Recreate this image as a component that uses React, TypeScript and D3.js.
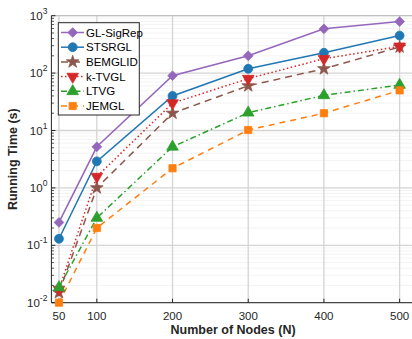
import React, { useEffect, useRef } from "react";
import * as d3 from "d3";

const nodes = [50, 100, 200, 300, 400, 500];
const glSigRep = [0.25, 5.2, 90, 200, 590, 790];
const stsrgl = [0.13, 2.9, 40, 119, 226, 450];
const bemglid = [0.015, 1.0, 20, 60, 119, 285];
const kTvgl = [0.017, 1.57, 30, 80, 178, 292];
const ltvg = [0.0185, 0.3, 5.2, 20.4, 41, 62];
const jemgl = [0.01, 0.2, 2.2, 10.2, 20, 50];
const yTicks = [-2, -1, 0, 1, 2, 3];

const series = [
  { name: "GL-SigRep", values: glSigRep, color: "#9467bd", dash: "", marker: d3.symbolDiamond2, size: 60 },
  { name: "STSRGL", values: stsrgl, color: "#1f77b4", dash: "", marker: d3.symbolCircle, size: 62 },
  { name: "BEMGLID", values: bemglid, color: "#8c564b", dash: "7,5", marker: d3.symbolStar, size: 50 },
  { name: "k-TVGL", values: kTvgl, color: "#d62728", dash: "1.5,2.5", marker: d3.symbolTriangle, size: 58, rot: 180 },
  { name: "LTVG", values: ltvg, color: "#2ca02c", dash: "6,3,1.5,3", marker: d3.symbolTriangle, size: 58 },
  { name: "JEMGL", values: jemgl, color: "#ff7f0e", dash: "6,5", marker: d3.symbolSquare, size: 52 },
];

const W = 412;
const H = 339;

export default function App() {
  const ref = useRef<SVGSVGElement>(null);

  useEffect(() => {
    const svg = d3.select(ref.current);
    svg.selectAll("*").remove();

    const left = 51.4, top = 15.7, bottom = 302.7;
    const x = d3.scaleLinear().domain([40, 520]).range([left, left + 480 * 0.757]);
    const y = d3.scaleLog().domain([0.01, 1000]).range([bottom, top]);
    const right = x(520);
    const font = "Liberation Sans, Arial, sans-serif";

    svg.append("rect").attr("width", W).attr("height", H).attr("fill", "#fff");

    // minor y grid
    const minor: number[] = [];
    for (let e = -2; e < 3; e++) for (let m = 2; m <= 9; m++) minor.push(m * Math.pow(10, e));
    svg.append("g").selectAll("line").data(minor).join("line")
      .attr("x1", left).attr("x2", right)
      .attr("y1", (d) => y(d)).attr("y2", (d) => y(d))
      .attr("stroke", "#e2e2e2").attr("stroke-width", 0.8).attr("stroke-dasharray", "1,1");

    // major grid
    svg.append("g").selectAll("line").data(yTicks).join("line")
      .attr("x1", left).attr("x2", right)
      .attr("y1", (d) => y(Math.pow(10, d))).attr("y2", (d) => y(Math.pow(10, d)))
      .attr("stroke", "#d4d4d4").attr("stroke-width", 1.3);
    svg.append("g").selectAll("line").data(nodes).join("line")
      .attr("x1", (d) => x(d)).attr("x2", (d) => x(d))
      .attr("y1", top).attr("y2", bottom)
      .attr("stroke", "#d4d4d4").attr("stroke-width", 1.3);

    // frame
    svg.append("line").attr("x1", left).attr("x2", right).attr("y1", top).attr("y2", top)
      .attr("stroke", "#bcbcbc").attr("stroke-width", 1);
    svg.append("line").attr("x1", left).attr("x2", right).attr("y1", bottom).attr("y2", bottom)
      .attr("stroke", "#262626").attr("stroke-width", 1);
    svg.append("line").attr("x1", left).attr("x2", left).attr("y1", top).attr("y2", bottom)
      .attr("stroke", "#262626").attr("stroke-width", 1);

    // ticks
    svg.append("g").selectAll("line").data(nodes).join("line")
      .attr("x1", (d) => x(d)).attr("x2", (d) => x(d))
      .attr("y1", bottom).attr("y2", bottom - 4)
      .attr("stroke", "#262626");
    svg.append("g").selectAll("line").data(yTicks).join("line")
      .attr("x1", left).attr("x2", left + 4)
      .attr("y1", (d) => y(Math.pow(10, d))).attr("y2", (d) => y(Math.pow(10, d)))
      .attr("stroke", "#262626");
    svg.append("g").selectAll("line").data(minor).join("line")
      .attr("x1", left).attr("x2", left + 2.5)
      .attr("y1", (d) => y(d)).attr("y2", (d) => y(d))
      .attr("stroke", "#262626").attr("stroke-width", 0.8);

    // tick labels
    svg.append("g").selectAll("text").data(nodes).join("text")
      .attr("x", (d) => x(d)).attr("y", bottom + 17)
      .attr("text-anchor", "middle").attr("font-family", font).attr("font-size", 11.5)
      .attr("fill", "#262626").text((d) => d);
    const yl = svg.append("g").selectAll("text").data(yTicks).join("text")
      .attr("x", left - 4).attr("y", (d) => y(Math.pow(10, d)) + 4)
      .attr("text-anchor", "end").attr("font-family", font).attr("font-size", 11.5)
      .attr("fill", "#262626");
    yl.append("tspan").text("10");
    yl.append("tspan").attr("dy", -6).attr("font-size", 8.5).text((d) => d);

    // axis labels
    svg.append("text").attr("x", (left + right) / 2).attr("y", 334)
      .attr("text-anchor", "middle").attr("font-family", font).attr("font-size", 12.5)
      .attr("font-weight", "bold").attr("fill", "#262626").text("Number of Nodes (N)");
    svg.append("text").attr("transform", `translate(17,${(top + bottom) / 2}) rotate(-90)`)
      .attr("text-anchor", "middle").attr("font-family", font).attr("font-size", 12.5)
      .attr("font-weight", "bold").attr("fill", "#262626").text("Running Time (s)");

    const line = d3.line<number>().x((_, i) => x(nodes[i])).y((d) => y(d));
    const drawMarker = (g: any, s: any, cx: number, cy: number) => {
      g.append("path")
        .attr("d", d3.symbol().type(s.marker).size(s.size)())
        .attr("transform", `translate(${cx},${cy}) rotate(${s.rot || 0})`)
        .attr("fill", s.color).attr("stroke", s.color).attr("stroke-width", 0.8);
    };

    const plot = svg.append("g");
    series.forEach((s) => {
      plot.append("path").attr("d", line(s.values))
        .attr("fill", "none").attr("stroke", s.color).attr("stroke-width", 1.5)
        .attr("stroke-dasharray", s.dash || null);
    });
    series.forEach((s) => {
      s.values.forEach((v, i) => drawMarker(plot, s, x(nodes[i]), y(v)));
    });

    // legend
    const lg = svg.append("g");
    const lx = 58.3, ly = 22.7, lw = 81, lh = 92.3;
    lg.append("rect").attr("x", lx).attr("y", ly).attr("width", lw).attr("height", lh)
      .attr("fill", "#fff").attr("stroke", "#262626").attr("stroke-width", 1);
    series.forEach((s, i) => {
      const cy = 32.5 + i * 14.7;
      lg.append("line").attr("x1", 61).attr("x2", 84).attr("y1", cy).attr("y2", cy)
        .attr("stroke", s.color).attr("stroke-width", 1.5)
        .attr("stroke-dasharray", s.dash || null);
      drawMarker(lg, s, 72.7, cy);
      lg.append("text").attr("x", 86).attr("y", cy + 4)
        .attr("font-family", font).attr("font-size", 11.5).attr("fill", "#000").text(s.name);
    });
  }, []);

  return (
    <svg ref={ref} width={W} height={H}
      style={{ position: "absolute", left: 0, top: 0, display: "block" }} />
  );
}
